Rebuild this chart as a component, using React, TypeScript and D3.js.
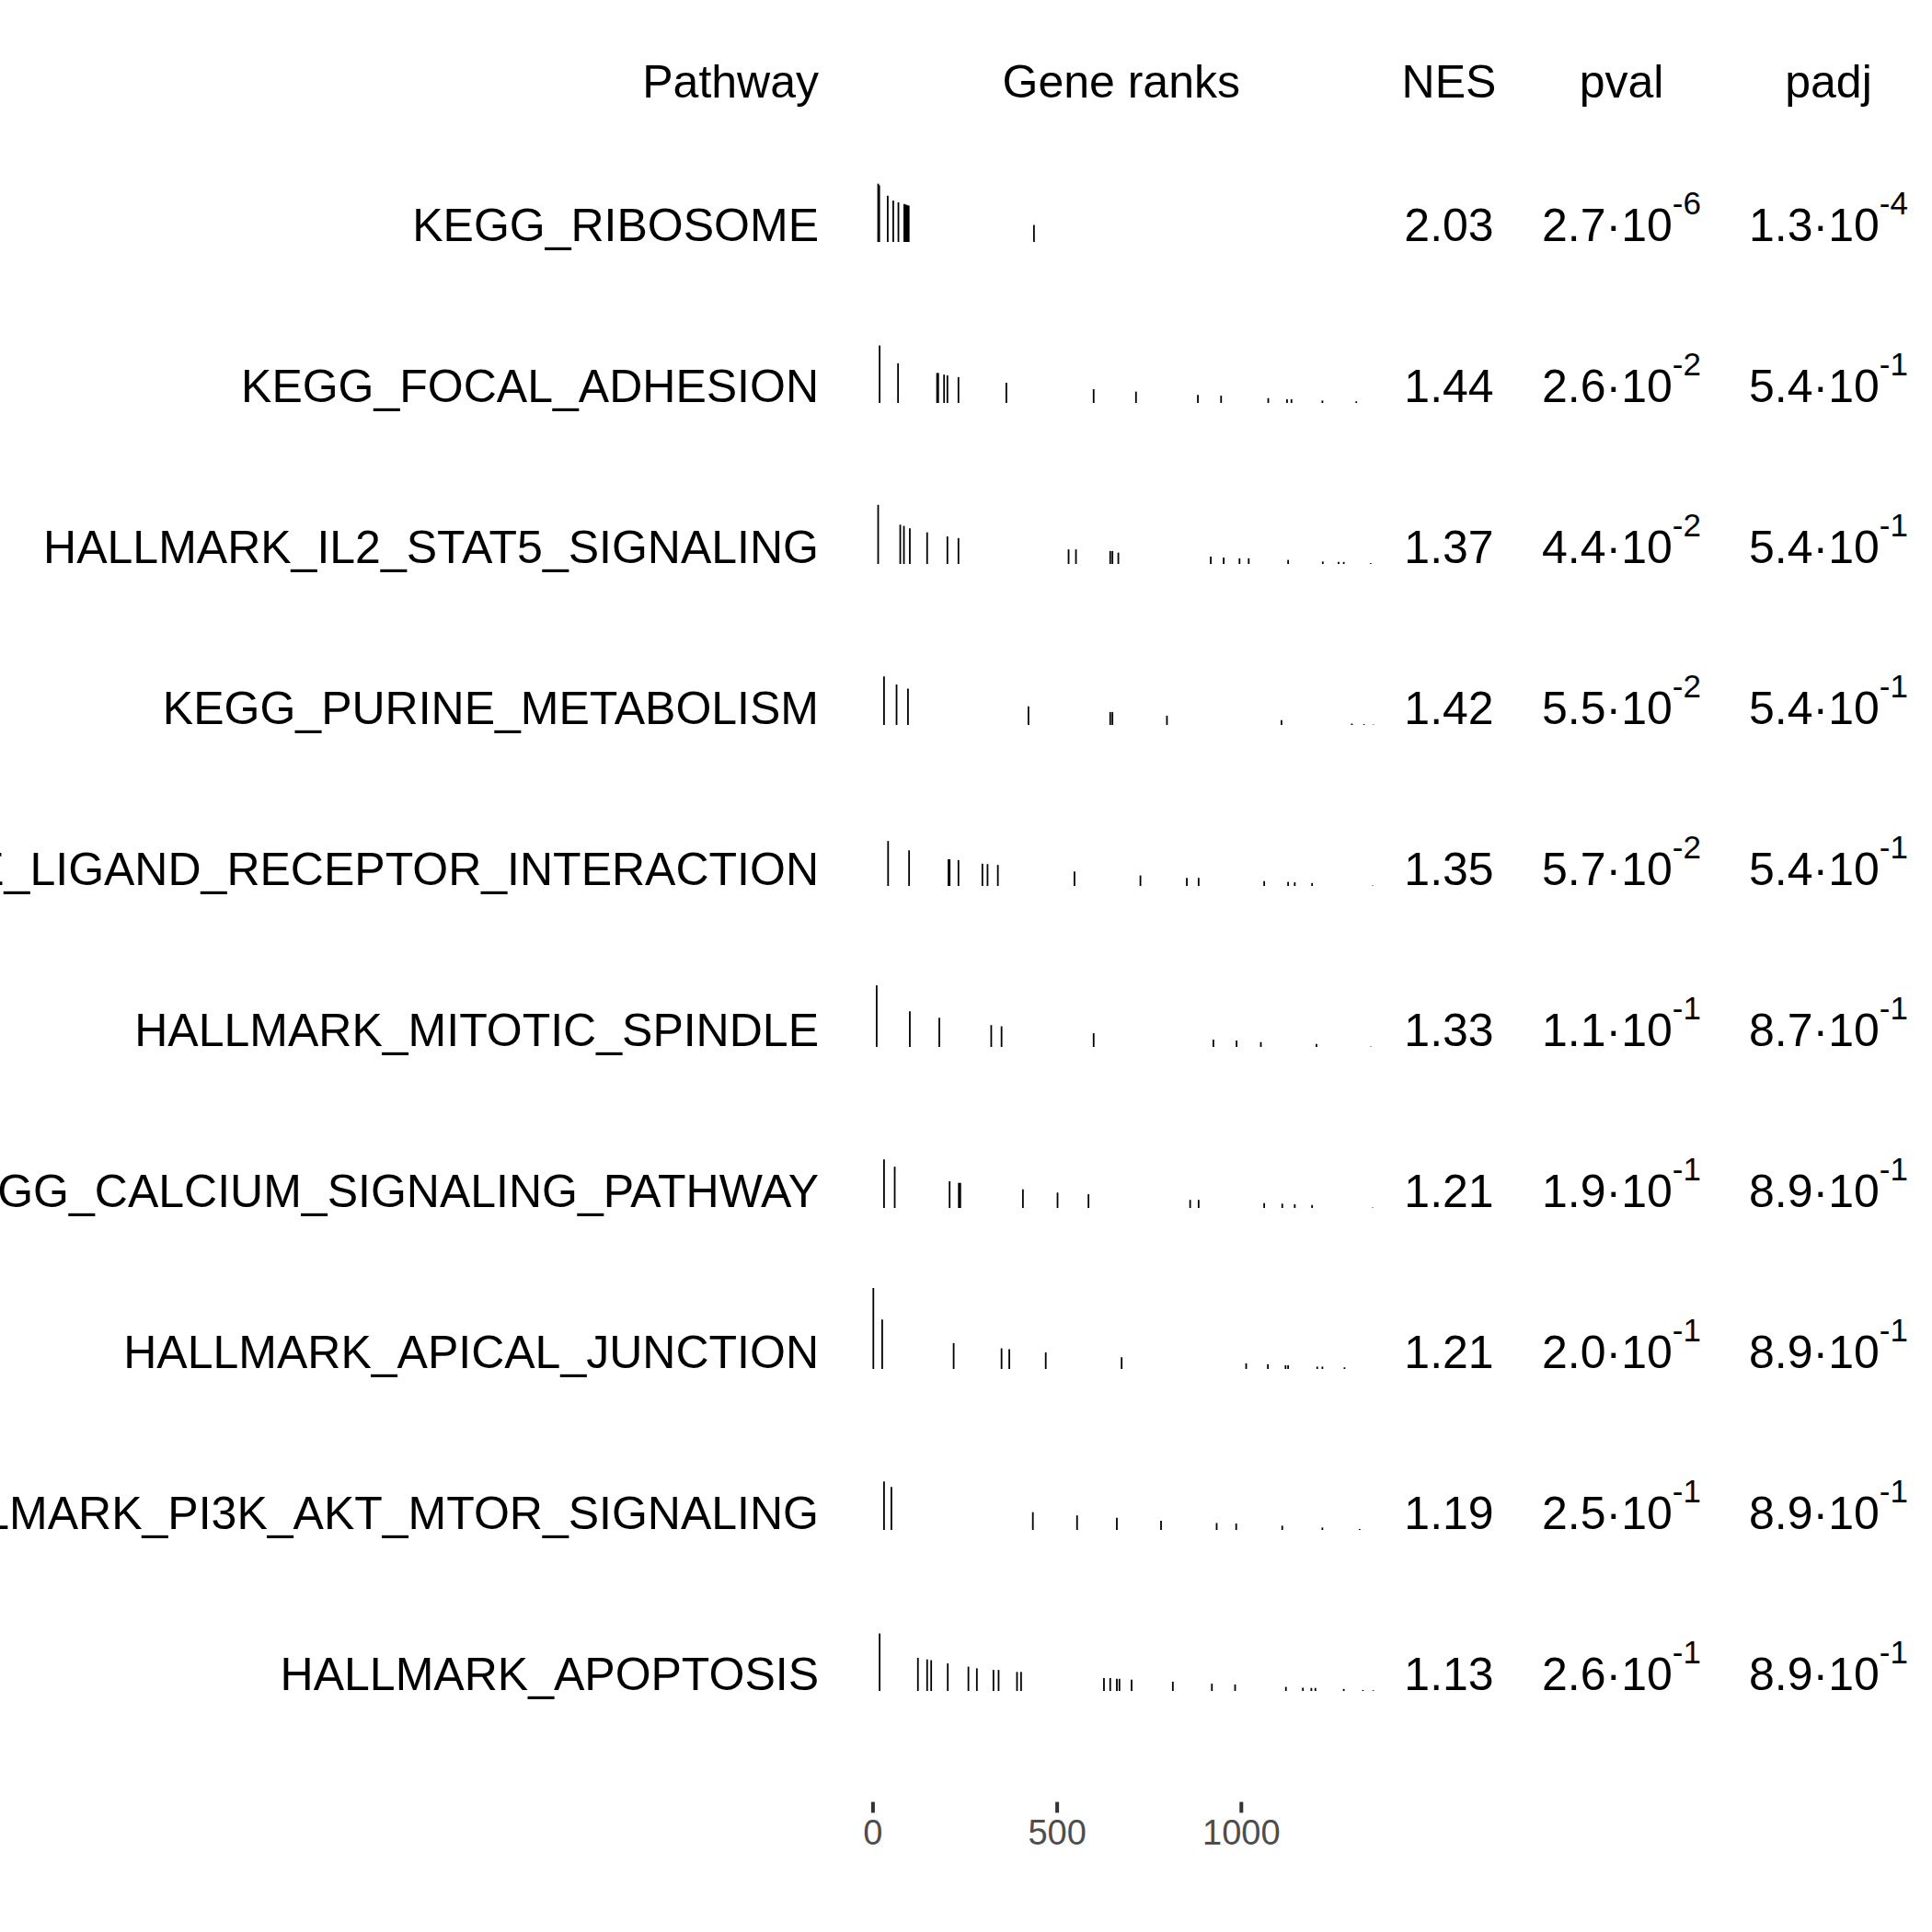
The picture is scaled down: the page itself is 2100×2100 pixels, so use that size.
import React from 'react';
import * as d3 from 'd3';

const pathways = [
  'KEGG_RIBOSOME',
  'KEGG_FOCAL_ADHESION',
  'HALLMARK_IL2_STAT5_SIGNALING',
  'KEGG_PURINE_METABOLISM',
  'KEGG_NEUROACTIVE_LIGAND_RECEPTOR_INTERACTION',
  'HALLMARK_MITOTIC_SPINDLE',
  'KEGG_CALCIUM_SIGNALING_PATHWAY',
  'HALLMARK_APICAL_JUNCTION',
  'HALLMARK_PI3K_AKT_MTOR_SIGNALING',
  'HALLMARK_APOPTOSIS',
];
const nes = [2.03, 1.44, 1.37, 1.42, 1.35, 1.33, 1.21, 1.21, 1.19, 1.13];
const pval = [2.7e-6, 2.6e-2, 4.4e-2, 5.5e-2, 5.7e-2, 1.1e-1, 1.9e-1, 2.0e-1, 2.5e-1, 2.6e-1];
const padj = [1.3e-4, 5.4e-1, 5.4e-1, 5.4e-1, 5.4e-1, 8.7e-1, 8.9e-1, 8.9e-1, 8.9e-1, 8.9e-1];

// [rank, scaled stat] for each gene of the pathway
const ranksRibosome = [[14, 0.72], [17, 0.70], [40, 0.57], [55, 0.51], [69, 0.49], [85, 0.47], [88, 0.46], [91, 0.46], [94, 0.45], [97, 0.45], [437, 0.21]];
const ranksFocal = [[18, 0.71], [68, 0.49], [174, 0.37], [177, 0.37], [193, 0.35], [202, 0.34], [232, 0.32], [362, 0.25], [599, 0.17], [714, 0.14], [882, 0.10], [945, 0.09], [1073, 0.06], [1124, 0.045], [1136, 0.045], [1220, 0.03], [1312, 0.02]];
const ranksIl2 = [[14, 0.73], [74, 0.485], [84, 0.47], [100, 0.44], [147, 0.39], [202, 0.34], [232, 0.32], [531, 0.18], [551, 0.18], [644, 0.16], [650, 0.16], [666, 0.14], [917, 0.09], [952, 0.08], [995, 0.07], [1020, 0.07], [1127, 0.05], [1221, 0.03], [1264, 0.025], [1278, 0.025], [1351, 0.01]];
const ranksPurine = [[30, 0.60], [64, 0.50], [95, 0.45], [422, 0.23], [644, 0.16], [650, 0.16], [798, 0.115], [1109, 0.06], [1300, 0.017], [1333, 0.01], [1358, 0.005]];
const ranksNeuro = [[41, 0.555], [98, 0.44], [205, 0.33], [208, 0.33], [232, 0.32], [297, 0.275], [311, 0.27], [339, 0.26], [547, 0.18], [726, 0.13], [852, 0.10], [884, 0.10], [1062, 0.06], [1127, 0.05], [1145, 0.045], [1192, 0.037], [1356, 0.005]];
const ranksMitotic = [[10, 0.76], [100, 0.44], [180, 0.36], [321, 0.27], [349, 0.255], [599, 0.17], [924, 0.09], [987, 0.08], [1053, 0.06], [1204, 0.037], [1351, 0.005]];
const ranksCalcium = [[30, 0.60], [59, 0.51], [208, 0.33], [233, 0.31], [237, 0.31], [407, 0.23], [501, 0.19], [585, 0.17], [861, 0.10], [884, 0.10], [1062, 0.06], [1111, 0.053], [1145, 0.045], [1192, 0.037], [1356, 0.005]];
const ranksApical = [[1, 1.0], [25, 0.61], [219, 0.32], [349, 0.255], [370, 0.245], [469, 0.205], [675, 0.145], [1013, 0.07], [1072, 0.058], [1120, 0.045], [1127, 0.045], [1206, 0.029], [1220, 0.029], [1280, 0.02]];
const ranksPi3k = [[30, 0.60], [50, 0.53], [434, 0.22], [554, 0.18], [662, 0.15], [782, 0.115], [933, 0.086], [986, 0.08], [1111, 0.053], [1220, 0.03], [1321, 0.012]];
const ranksApoptosis = [[18, 0.71], [122, 0.41], [147, 0.39], [158, 0.38], [203, 0.34], [259, 0.30], [282, 0.28], [327, 0.26], [341, 0.26], [391, 0.235], [402, 0.235], [627, 0.16], [644, 0.16], [662, 0.15], [669, 0.15], [702, 0.14], [814, 0.115], [920, 0.09], [983, 0.08], [1121, 0.05], [1167, 0.04], [1190, 0.037], [1201, 0.037], [1278, 0.025], [1330, 0.012], [1358, 0.008]];

const geneRanks = [ranksRibosome, ranksFocal, ranksIl2, ranksPurine, ranksNeuro, ranksMitotic, ranksCalcium, ranksApical, ranksPi3k, ranksApoptosis];
const headers = ['Pathway', 'Gene ranks', 'NES', 'pval', 'padj'];
const axisTicks = [0, 500, 1000];

const W = 2100, H = 2100;
const FONT = '"Liberation Sans", Arial, Helvetica, sans-serif';
const FS = 50;

function Sci({ v, x, y }: { v: number; x: number; y: number }) {
  const [m, e] = v.toExponential(1).split('e');
  const exp = String(parseInt(e, 10));
  return (
    <text x={x} y={y} textAnchor="middle" fontSize={FS}>
      {m}·10<tspan fontSize={FS * 0.7} dy={-29}>{exp}</tspan>
    </text>
  );
}

export default function App() {
  const x = d3.scaleLinear().domain([0, 1000]).range([948.9, 1349.3]);
  const rowY = d3.scaleLinear().domain([0, 1]).range([263, 438]); // tick baseline per row index
  const tickH = 88;
  const labelX = 890;
  const colNes = 1575, colPval = 1762.5, colPadj = 1987.5, colRanks = 1218.75;

  return (
    <svg width={W} height={H} style={{ position: 'absolute', left: 0, top: 0, background: '#fff' }} fontFamily={FONT}>
      <rect width={W} height={H} fill="#fff" />
      <g fontSize={FS} fill="#000">
        <text x={labelX} y={106} textAnchor="end">{headers[0]}</text>
        <text x={colRanks} y={106} textAnchor="middle">{headers[1]}</text>
        <text x={colNes} y={106} textAnchor="middle">{headers[2]}</text>
        <text x={colPval} y={106} textAnchor="middle">{headers[3]}</text>
        <text x={colPadj} y={106} textAnchor="middle">{headers[4]}</text>
      </g>
      {pathways.map((p, i) => {
        const by = rowY(i);
        const ty = by - 1;
        return (
          <g key={p}>
            <text x={labelX} y={ty} textAnchor="end" fontSize={FS}>{p}</text>
            {geneRanks[i].map(([r, s], j) => (
              <line key={j} x1={x(r)} x2={x(r)} y1={by} y2={by - s * tickH} stroke="#000" strokeWidth={1.8} />
            ))}
            <text x={colNes} y={ty} textAnchor="middle" fontSize={FS}>{nes[i].toFixed(2)}</text>
            <Sci v={pval[i]} x={colPval} y={ty} />
            <Sci v={padj[i]} x={colPadj} y={ty} />
          </g>
        );
      })}
      <g>
        {axisTicks.map(t => (
          <g key={t}>
            <line x1={x(t)} x2={x(t)} y1={1958.6} y2={1970.4} stroke="#333333" strokeWidth={4} />
            <text x={x(t)} y={2005} textAnchor="middle" fontSize={38} fill="#4D4D4D">{t}</text>
          </g>
        ))}
      </g>
    </svg>
  );
}
